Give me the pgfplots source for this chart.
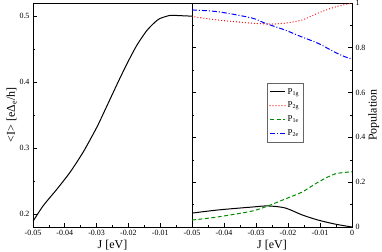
\documentclass[border=0pt]{standalone}
\usepackage{pgfplots}
\pgfplotsset{compat=1.18}
\usepackage{fontspec}
\setmainfont{Liberation Serif}
\begin{document}
\begin{tikzpicture}
\useasboundingbox (-33bp,-25bp) rectangle (349bp,227bp);
\pgfplotsset{
  common/.style={
    scale only axis,
    height=224bp,
    xmin=-0.05, xmax=0,
    scaled x ticks=false, scaled y ticks=false,
    axis line style={line width=0.7pt},
    tick style={line width=0.6pt, black},
    major tick length=4bp,
    minor tick length=2bp,
    tick align=inside,
    /pgf/number format/assume math mode=true,
    /pgf/number format/.cd, fixed, precision=2, /pgfplots/.cd,
    tick label style={font=\fontsize{8}{9}\selectfont},
    label style={font=\fontsize{12}{14}\selectfont},
    xlabel={J [eV]},
    xlabel style={yshift=3bp},
    minor x tick num=1,
    xtick pos=bottom,
  }
}
\begin{axis}[common,
  at={(0bp,0bp)}, anchor=south west,
  width=159bp,
  ymin=0.18, ymax=0.52,
  xtick={-0.05,-0.04,-0.03,-0.02,-0.01,0},
  xticklabels={-0.05,-0.04,-0.03,-0.02,-0.01,},
  ytick={0.2,0.3,0.4,0.5},
  minor y tick num=1,
  ytick pos=left,
  ylabel={\textless I\textgreater{} [eΔ\textsubscript{e}/h]},
  ylabel style={yshift=-4bp},
]
\addplot[black, line width=1pt, smooth, tension=0.4] coordinates {
(-0.05,0.1886) (-0.04676,0.2125) (-0.04255,0.2370) (-0.03836,0.2630)
(-0.03418,0.2940) (-0.02997,0.3310) (-0.02789,0.3520) (-0.02368,0.3955)
(-0.02053,0.4270) (-0.01739,0.4555) (-0.01424,0.4780) (-0.01163,0.4910)
(-0.01006,0.4965) (-0.0069,0.5012) (-0.0038,0.5008) (0,0.5)
};
\end{axis}
\begin{axis}[common,
  at={(159bp,0bp)}, anchor=south west,
  width=160bp,
  ymin=0, ymax=1,
  xtick={-0.05,-0.04,-0.03,-0.02,-0.01,0},
  ytick={0,0.2,0.4,0.6,0.8,1},
  minor y tick num=1,
  ytick pos=both,
  yticklabel pos=right,
  ylabel={Population},
  ylabel style={yshift=4bp},
  legend style={at={(0.47,0.643)}, anchor=north west, draw=black!60, font=\fontsize{9}{10}\selectfont, row sep=2.5bp, inner xsep=2bp, inner ysep=3bp, cells={anchor=west}},
  legend image code/.code={\draw[#1] (0bp,0bp) -- (15bp,0bp);},
]
\addplot[black, line width=1pt, smooth] coordinates {
(-0.05,0.062) (-0.0419,0.076) (-0.0313,0.089) (-0.0263,0.094)
(-0.0209,0.085) (-0.0156,0.054) (-0.0106,0.031) (-0.0053,0.013) (0,0.0)
};
\addlegendentry{P\textsubscript{1g}}
\addplot[red, line width=1.3pt, line cap=round, dash pattern=on 0pt off 3pt, smooth] coordinates {
(-0.05,0.94) (-0.0419,0.924) (-0.0313,0.91) (-0.025,0.906)
(-0.0209,0.91) (-0.0156,0.924) (-0.0106,0.955) (-0.0053,0.982) (0,1.0)
};
\addlegendentry{P\textsubscript{2g}}
\addplot[green!55!black, line width=1pt, dash pattern=on 4pt off 2.5pt, smooth] coordinates {
(-0.05,0.031) (-0.0419,0.045) (-0.0313,0.071) (-0.0263,0.094)
(-0.0209,0.125) (-0.0156,0.156) (-0.0106,0.2) (-0.0053,0.237) (0,0.246)
};
\addlegendentry{P\textsubscript{1e}}
\addplot[blue, line width=1pt, dash pattern=on 5pt off 2pt on 1pt off 2pt, smooth] coordinates {
(-0.05,0.969) (-0.0419,0.961) (-0.0313,0.933) (-0.0272,0.91)
(-0.0209,0.879) (-0.0156,0.848) (-0.0106,0.82) (-0.0053,0.78) (-0.0022,0.76) (0,0.75)
};
\addlegendentry{P\textsubscript{2e}}
\end{axis}
\end{tikzpicture}
\end{document}
